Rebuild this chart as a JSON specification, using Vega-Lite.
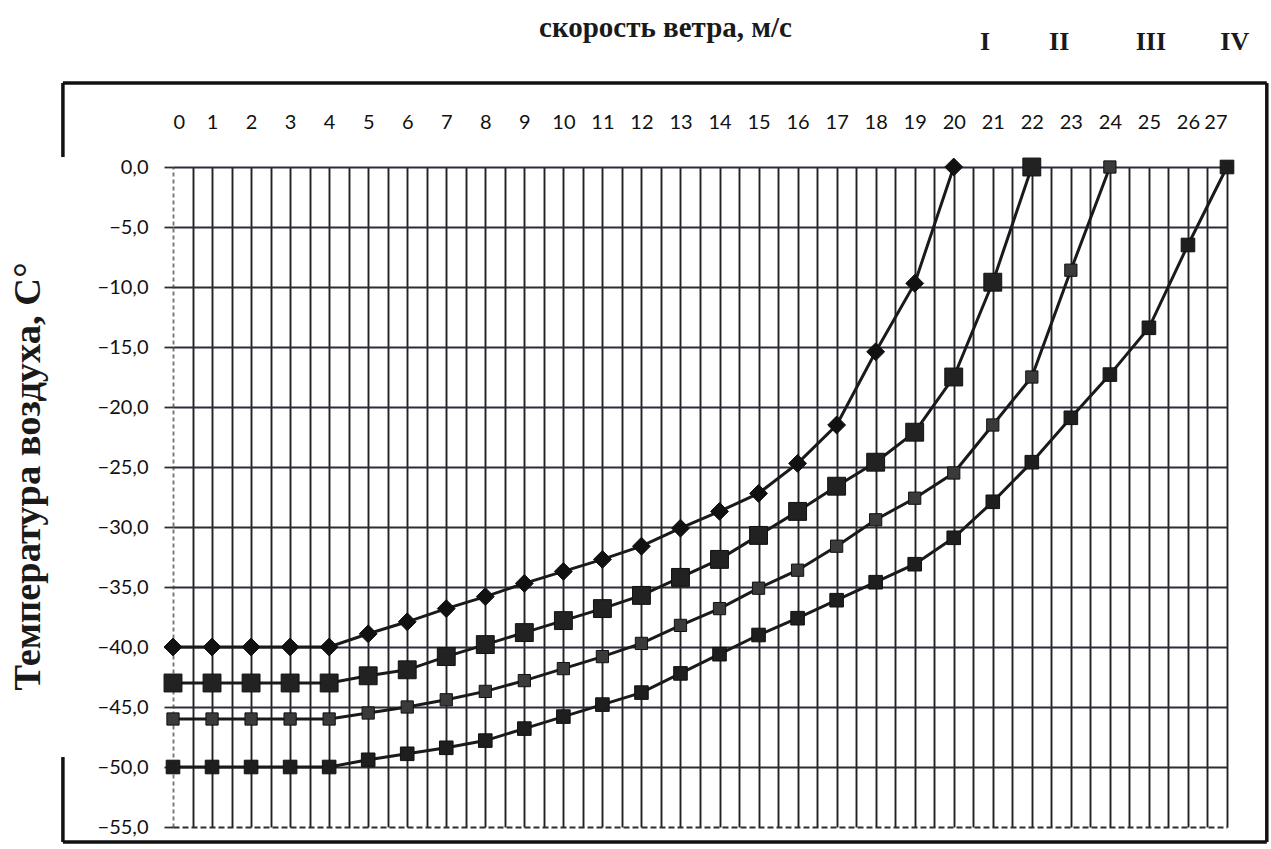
{
  "$schema": "https://vega.github.io/schema/vega-lite/v6.json",
  "width": 1054,
  "height": 660,
  "autosize": "none",
  "padding": {"left": 173, "top": 167, "right": 44, "bottom": 22},
  "background": "#ffffff",
  "config": {"view": {"stroke": null}},
  "datasets": {
    "curves": [
      {"series": "I", "wind": 0, "temp": -40}, {"series": "I", "wind": 1, "temp": -40}, {"series": "I", "wind": 2, "temp": -40}, {"series": "I", "wind": 3, "temp": -40}, {"series": "I", "wind": 4, "temp": -40},
      {"series": "I", "wind": 5, "temp": -38.9}, {"series": "I", "wind": 6, "temp": -37.9}, {"series": "I", "wind": 7, "temp": -36.8}, {"series": "I", "wind": 8, "temp": -35.8}, {"series": "I", "wind": 9, "temp": -34.7},
      {"series": "I", "wind": 10, "temp": -33.7}, {"series": "I", "wind": 11, "temp": -32.7}, {"series": "I", "wind": 12, "temp": -31.6}, {"series": "I", "wind": 13, "temp": -30.1}, {"series": "I", "wind": 14, "temp": -28.7},
      {"series": "I", "wind": 15, "temp": -27.2}, {"series": "I", "wind": 16, "temp": -24.7}, {"series": "I", "wind": 17, "temp": -21.5}, {"series": "I", "wind": 18, "temp": -15.4}, {"series": "I", "wind": 19, "temp": -9.7},
      {"series": "I", "wind": 20, "temp": 0},
      {"series": "II", "wind": 0, "temp": -43}, {"series": "II", "wind": 1, "temp": -43}, {"series": "II", "wind": 2, "temp": -43}, {"series": "II", "wind": 3, "temp": -43}, {"series": "II", "wind": 4, "temp": -43},
      {"series": "II", "wind": 5, "temp": -42.4}, {"series": "II", "wind": 6, "temp": -41.9}, {"series": "II", "wind": 7, "temp": -40.8}, {"series": "II", "wind": 8, "temp": -39.8}, {"series": "II", "wind": 9, "temp": -38.8},
      {"series": "II", "wind": 10, "temp": -37.8}, {"series": "II", "wind": 11, "temp": -36.8}, {"series": "II", "wind": 12, "temp": -35.7}, {"series": "II", "wind": 13, "temp": -34.2}, {"series": "II", "wind": 14, "temp": -32.7},
      {"series": "II", "wind": 15, "temp": -30.7}, {"series": "II", "wind": 16, "temp": -28.7}, {"series": "II", "wind": 17, "temp": -26.6}, {"series": "II", "wind": 18, "temp": -24.6}, {"series": "II", "wind": 19, "temp": -22.1},
      {"series": "II", "wind": 20, "temp": -17.5}, {"series": "II", "wind": 21, "temp": -9.6}, {"series": "II", "wind": 22, "temp": 0},
      {"series": "III", "wind": 0, "temp": -46}, {"series": "III", "wind": 1, "temp": -46}, {"series": "III", "wind": 2, "temp": -46}, {"series": "III", "wind": 3, "temp": -46}, {"series": "III", "wind": 4, "temp": -46},
      {"series": "III", "wind": 5, "temp": -45.5}, {"series": "III", "wind": 6, "temp": -45}, {"series": "III", "wind": 7, "temp": -44.4}, {"series": "III", "wind": 8, "temp": -43.7}, {"series": "III", "wind": 9, "temp": -42.8},
      {"series": "III", "wind": 10, "temp": -41.8}, {"series": "III", "wind": 11, "temp": -40.8}, {"series": "III", "wind": 12, "temp": -39.7}, {"series": "III", "wind": 13, "temp": -38.2}, {"series": "III", "wind": 14, "temp": -36.8},
      {"series": "III", "wind": 15, "temp": -35.1}, {"series": "III", "wind": 16, "temp": -33.6}, {"series": "III", "wind": 17, "temp": -31.6}, {"series": "III", "wind": 18, "temp": -29.4}, {"series": "III", "wind": 19, "temp": -27.6},
      {"series": "III", "wind": 20, "temp": -25.5}, {"series": "III", "wind": 21, "temp": -21.5}, {"series": "III", "wind": 22, "temp": -17.5}, {"series": "III", "wind": 23, "temp": -8.6}, {"series": "III", "wind": 24, "temp": 0},
      {"series": "IV", "wind": 0, "temp": -50}, {"series": "IV", "wind": 1, "temp": -50}, {"series": "IV", "wind": 2, "temp": -50}, {"series": "IV", "wind": 3, "temp": -50}, {"series": "IV", "wind": 4, "temp": -50},
      {"series": "IV", "wind": 5, "temp": -49.4}, {"series": "IV", "wind": 6, "temp": -48.9}, {"series": "IV", "wind": 7, "temp": -48.4}, {"series": "IV", "wind": 8, "temp": -47.8}, {"series": "IV", "wind": 9, "temp": -46.8},
      {"series": "IV", "wind": 10, "temp": -45.8}, {"series": "IV", "wind": 11, "temp": -44.8}, {"series": "IV", "wind": 12, "temp": -43.8}, {"series": "IV", "wind": 13, "temp": -42.2}, {"series": "IV", "wind": 14, "temp": -40.6},
      {"series": "IV", "wind": 15, "temp": -39}, {"series": "IV", "wind": 16, "temp": -37.6}, {"series": "IV", "wind": 17, "temp": -36.1}, {"series": "IV", "wind": 18, "temp": -34.6}, {"series": "IV", "wind": 19, "temp": -33.1},
      {"series": "IV", "wind": 20, "temp": -30.9}, {"series": "IV", "wind": 21, "temp": -27.9}, {"series": "IV", "wind": 22, "temp": -24.6}, {"series": "IV", "wind": 23, "temp": -20.9}, {"series": "IV", "wind": 24, "temp": -17.3},
      {"series": "IV", "wind": 25, "temp": -13.4}, {"series": "IV", "wind": 26, "temp": -6.5}, {"series": "IV", "wind": 27, "temp": 0}
    ],
    "labels": [
      {"label": "I", "wind": 20.8},
      {"label": "II", "wind": 22.7},
      {"label": "III", "wind": 25.05},
      {"label": "IV", "wind": 27.2}
    ]
  },
  "layer": [
    {
      "data": {"name": "curves"},
      "mark": {"type": "line", "strokeWidth": 3, "color": "#1a1a1a"},
      "encoding": {
        "x": {
          "field": "wind", "type": "quantitative",
          "scale": {"domain": [0, 27], "nice": false, "zero": false},
          "axis": {
            "orient": "top",
            "values": [0, 0.5, 1, 1.5, 2, 2.5, 3, 3.5, 4, 4.5, 5, 5.5, 6, 6.5, 7, 7.5, 8, 8.5, 9, 9.5, 10, 10.5, 11, 11.5, 12, 12.5, 13, 13.5, 14, 14.5, 15, 15.5, 16, 16.5, 17, 17.5, 18, 18.5, 19, 19.5, 20, 20.5, 21, 21.5, 22, 22.5, 23, 23.5, 24, 24.5, 25, 25.5, 26, 26.5, 27],
            "labelExpr": "datum.value % 1 == 0 ? format(datum.value, 'd') : ''",
            "labelOverlap": false,
            "labelFont": "Lato",
            "labelFontSize": 20,
            "labelColor": "#111111",
            "labelPadding": 35,
            "ticks": false,
            "domain": false,
            "grid": true,
            "gridColor": {"condition": {"test": "datum.value == 0", "value": "#777777"}, "value": "#222222"},
            "gridDash": {"condition": {"test": "datum.value == 0", "value": [4, 3]}, "value": []},
            "gridWidth": 1.9,
            "title": "скорость ветра, м/с",
            "titleFont": "Liberation Serif",
            "titleFontSize": 29,
            "titleFontWeight": "bold",
            "titleColor": "#1a1a1a",
            "titleX": 492,
            "titleY": -131,
            "titleBaseline": "alphabetic",
            "titleAlign": "center"
          }
        },
        "y": {
          "field": "temp", "type": "quantitative",
          "scale": {"domain": [-55, 0], "nice": false, "zero": false},
          "axis": {
            "values": [0, -5, -10, -15, -20, -25, -30, -35, -40, -45, -50, -55],
            "labelExpr": "replace(format(datum.value, '.1f'), '.', ',')",
            "labelFont": "Lato",
            "labelFontSize": 20,
            "labelColor": "#111111",
            "labelPadding": 16,
            "ticks": true,
            "tickSize": 9,
            "tickColor": "#2c2c3a",
            "tickWidth": 1.8,
            "domain": false,
            "grid": true,
            "gridColor": "#2c2c3a",
            "gridWidth": 1.9,
            "gridDash": {"condition": {"test": "datum.value == -55", "value": [6, 3]}, "value": []},
            "title": "Температура воздуха, С°",
            "titleFont": "Liberation Serif",
            "titleFontSize": 38.5,
            "titleFontWeight": "bold",
            "titleColor": "#1a1a1a",
            "titleAngle": -90,
            "titleX": -134,
            "titleY": 309,
            "titleBaseline": "alphabetic",
            "titleAlign": "center"
          }
        },
        "detail": {"field": "series", "type": "nominal"}
      }
    },
    {
      "data": {"name": "curves"},
      "mark": {"type": "point", "filled": true, "opacity": 1, "stroke": "#111111", "strokeWidth": 1},
      "encoding": {
        "x": {"field": "wind", "type": "quantitative", "axis": null},
        "y": {"field": "temp", "type": "quantitative"},
        "shape": {"field": "series", "type": "nominal", "scale": {"domain": ["I", "II", "III", "IV"], "range": ["diamond", "square", "square", "square"]}, "legend": null},
        "size": {"field": "series", "type": "nominal", "scale": {"type": "ordinal", "domain": ["I", "II", "III", "IV"], "range": [320, 320, 150, 185]}, "legend": null},
        "fill": {"field": "series", "type": "nominal", "scale": {"domain": ["I", "II", "III", "IV"], "range": ["#111111", "#222222", "#3a3a3a", "#1e1e1e"]}, "legend": null}
      }
    },
    {
      "data": {"name": "labels"},
      "mark": {"type": "text", "font": "Liberation Serif", "fontSize": 26, "fontWeight": "bold", "color": "#1a1a1a", "baseline": "alphabetic", "align": "center"},
      "encoding": {
        "x": {"field": "wind", "type": "quantitative", "axis": null},
        "y": {"datum": 9.75, "type": "quantitative"},
        "text": {"field": "label", "type": "nominal"}
      }
    },
    {
      "data": {"values": [{}]},
      "mark": {"type": "rule", "color": "#111111", "strokeWidth": 3.5},
      "encoding": {
        "x": {"datum": -2.82, "type": "quantitative", "axis": null},
        "x2": {"datum": 28.02},
        "y": {"datum": 7, "type": "quantitative"}
      }
    },
    {
      "data": {"values": [{}]},
      "mark": {"type": "rule", "color": "#111111", "strokeWidth": 3.5},
      "encoding": {
        "x": {"datum": -2.82, "type": "quantitative", "axis": null},
        "x2": {"datum": 28.02},
        "y": {"datum": -56.25, "type": "quantitative"}
      }
    },
    {
      "data": {"values": [{}]},
      "mark": {"type": "rule", "color": "#111111", "strokeWidth": 3.5},
      "encoding": {
        "x": {"datum": 28.02, "type": "quantitative", "axis": null},
        "y": {"datum": 7, "type": "quantitative"},
        "y2": {"datum": -56.25}
      }
    },
    {
      "data": {"values": [{}]},
      "mark": {"type": "rule", "color": "#111111", "strokeWidth": 3.5},
      "encoding": {
        "x": {"datum": -2.82, "type": "quantitative", "axis": null},
        "y": {"datum": 7, "type": "quantitative"},
        "y2": {"datum": 0.83}
      }
    },
    {
      "data": {"values": [{}]},
      "mark": {"type": "rule", "color": "#111111", "strokeWidth": 3.5},
      "encoding": {
        "x": {"datum": -2.82, "type": "quantitative", "axis": null},
        "y": {"datum": -49.17, "type": "quantitative"},
        "y2": {"datum": -56.25}
      }
    }
  ],
  "resolve": {"axis": {"x": "independent", "y": "shared"}}
}
